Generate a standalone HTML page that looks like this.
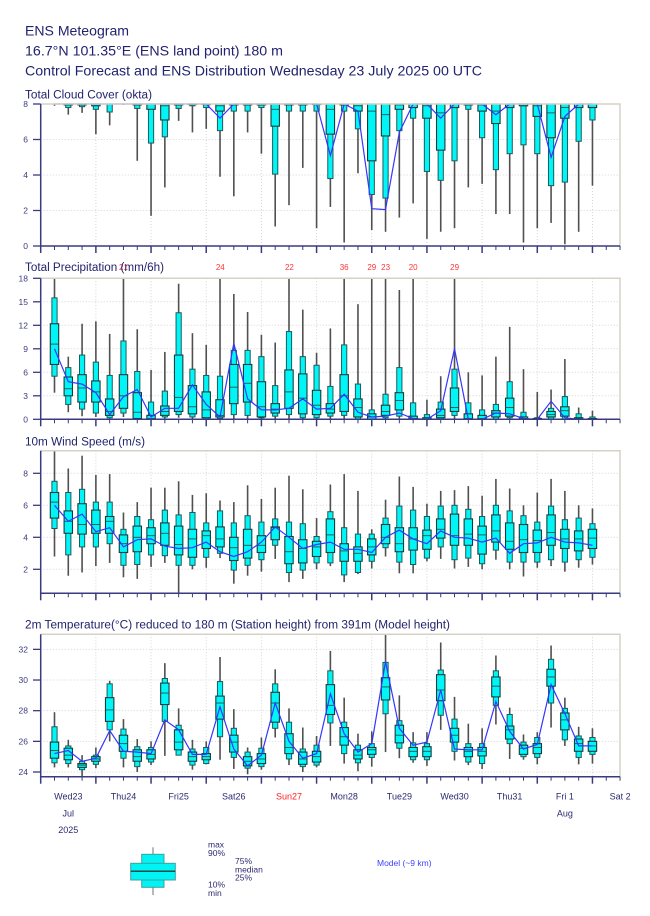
<!DOCTYPE html>
<html><head><meta charset="utf-8"><style>html,body{margin:0;padding:0;background:#fff;overflow:hidden}svg{display:block}</style></head>
<body>
<svg id="c" width="650" height="916" viewBox="0 0 650 916" xmlns="http://www.w3.org/2000/svg" font-family="'Liberation Sans', Arial, sans-serif">
<rect x="0" y="0" width="650" height="916" fill="#fff"/>
<g id="g"></g>
<g fill="#22226e">
<text x="25" y="35.5" font-size="14" textLength="104" lengthAdjust="spacingAndGlyphs">ENS Meteogram</text>
<text x="25" y="55.5" font-size="14" textLength="258" lengthAdjust="spacingAndGlyphs">16.7°N 101.35°E (ENS land point) 180 m</text>
<text x="25" y="75.5" font-size="14" textLength="457" lengthAdjust="spacingAndGlyphs">Control Forecast and ENS Distribution Wednesday 23 July 2025 00 UTC</text>
</g>
<g fill="#ff3333" font-size="8" text-anchor="middle">
<text x="123.5" y="270">21</text>
<text x="220.3" y="270">24</text>
<text x="289.4" y="270">22</text>
<text x="344.2" y="270">36</text>
<text x="371.8" y="270">29</text>
<text x="385.6" y="270">23</text>
<text x="413.2" y="270">20</text>
<text x="454.6" y="270">29</text>
</g>
<g fill="#22226e" font-size="11.5">
<text x="25" y="98.5" textLength="127" lengthAdjust="spacingAndGlyphs">Total Cloud Cover (okta)</text>
<text x="25" y="271" textLength="139" lengthAdjust="spacingAndGlyphs">Total Precipitation (mm/6h)</text>
<text x="25" y="445.5" textLength="120" lengthAdjust="spacingAndGlyphs">10m Wind Speed (m/s)</text>
<text x="25" y="628.5" textLength="425" lengthAdjust="spacingAndGlyphs">2m Temperature(°C) reduced to 180 m (Station height) from 391m (Model height)</text>
</g>
<g fill="#3c3c7c" font-size="8.5" text-anchor="end">
<text x="28" y="249">0</text><text x="28" y="213.5">2</text><text x="28" y="178">4</text><text x="28" y="142.5">6</text><text x="28" y="107">8</text>
<text x="28" y="422.3">0</text><text x="28" y="398.8">3</text><text x="28" y="375.3">6</text><text x="28" y="351.8">9</text><text x="28" y="328.3">12</text><text x="28" y="304.8">15</text><text x="28" y="281.3">18</text>
<text x="28" y="572.3">2</text><text x="28" y="540.3">4</text><text x="28" y="508.3">6</text><text x="28" y="476.3">8</text>
<text x="28" y="775">24</text><text x="28" y="744.3">26</text><text x="28" y="713.7">28</text><text x="28" y="683">30</text><text x="28" y="652.4">32</text>
</g>
<g fill="#2a2a70" font-size="9" text-anchor="middle">
<text x="68.3" y="799.5">Wed23</text>
<text x="123.5" y="799.5">Thu24</text>
<text x="178.6" y="799.5">Fri25</text>
<text x="233.8" y="799.5">Sat26</text>
<text x="289" y="799.5" fill="#ff2020">Sun27</text>
<text x="344.2" y="799.5">Mon28</text>
<text x="399.4" y="799.5">Tue29</text>
<text x="454.6" y="799.5">Wed30</text>
<text x="509.7" y="799.5">Thu31</text>
<text x="564.9" y="799.5">Fri 1</text>
<text x="620.1" y="799.5">Sat 2</text>
<text x="68.3" y="816.5">Jul</text>
<text x="564.9" y="816.5">Aug</text>
<text x="68.3" y="833">2025</text>
</g>
<g>
<line x1="153" y1="847.3" x2="153" y2="895" stroke="#888" stroke-width="1.2"/>
<rect x="141.7" y="854.3" width="22.3" height="33" fill="#00f4f4" stroke="#40a0a0" stroke-width="1"/>
<rect x="130.7" y="863.3" width="44.6" height="16.7" fill="#00f4f4" stroke="#40a0a0" stroke-width="1"/>
<line x1="130.7" y1="871.3" x2="175.3" y2="871.3" stroke="#1a4a4a" stroke-width="1.5"/>
</g>
<g fill="#2a2a70" font-size="8.5">
<text x="208" y="847.5">max</text>
<text x="208" y="856">90%</text>
<text x="235" y="864">75%</text>
<text x="235" y="872.5">median</text>
<text x="235" y="880.5">25%</text>
<text x="208" y="887.5">10%</text>
<text x="208" y="896">min</text>
<text x="377" y="866" fill="#4040ff">Model (~9 km)</text>
</g>
</svg>
<script>
const NS="http://www.w3.org/2000/svg";
const G=document.getElementById('g');
function el(t,a){const e=document.createElementNS(NS,t);for(const k in a)e.setAttribute(k,a[k]);G.appendChild(e);return e;}
const X=h=>40.7+h*2.299;
const XL=40.7, XR=620;
const AX='#3a3a80';
function grid(top,bot,ticks,yf){
  for(let k=1;k<=10;k++){const x=X(24*k);el('line',{x1:x,x2:x,y1:top,y2:bot,stroke:'#d4d4d4','stroke-dasharray':'1,2','stroke-width':1});}
  ticks.forEach(v=>{const y=yf(v);if(y>top+1&&y<bot-1)el('line',{x1:XL,x2:XR,y1:y,y2:y,stroke:'#d4d4d4','stroke-dasharray':'1,2','stroke-width':1});});
}
function axes(top,bot,ticks,yf){
  el('polyline',{points:`${XL},${top} ${XR},${top} ${XR},${bot}`,fill:'none',stroke:'#d6d2c6','stroke-width':1.5});
  ticks.forEach(v=>{const y=yf(v);el('line',{x1:33,x2:XL,y1:y,y2:y,stroke:AX,'stroke-width':1.3});});
  el('line',{x1:XL,x2:XL,y1:top,y2:bot+1,stroke:AX,'stroke-width':1.5});
  el('line',{x1:XL,x2:XR,y1:bot,y2:bot,stroke:AX,'stroke-width':1.5});
  for(let h=0;h<=252;h+=6){const x=X(h);const maj=h%24==0;el('line',{x1:x,x2:x,y1:bot,y2:bot+(maj?7:4),stroke:AX,'stroke-width':maj?1.5:1});}
}
function panel(data,model,yf,top,bot,ticks){
  grid(top,bot,ticks,yf);
  const Y=v=>Math.min(bot,Math.max(top,yf(v)));
  data.forEach((d,i)=>{
    const x=X(6*(i+1));
    el('line',{x1:x,x2:x,y1:Y(d[6]),y2:Y(d[0]),stroke:'#505050','stroke-width':1.6});
    el('rect',{x:x-2.6,y:Y(d[5]),width:5.2,height:Math.max(0,Y(d[1])-Y(d[5])),fill:'#00f6f6',stroke:'#1f5a5a','stroke-width':1});
    el('rect',{x:x-4.2,y:Y(d[4]),width:8.4,height:Math.max(0,Y(d[2])-Y(d[4])),fill:'#00f6f6',stroke:'#163c3c','stroke-width':1.1});
    el('line',{x1:x-4.2,x2:x+4.2,y1:Y(d[3]),y2:Y(d[3]),stroke:'#1f5050','stroke-width':0.9});
  });
  el('polyline',{points:model.map((m,i)=>X(6*(i+1)).toFixed(1)+','+Y(m).toFixed(1)).join(' '),fill:'none',stroke:'#3535ff','stroke-width':1.2});
  axes(top,bot,ticks,yf);
}
const cloud=[
[7.9,8,8,8,8,8,8],[7.4,7.8,7.95,8,8,8,8],[7.5,7.85,7.95,8,8,8,8],[6.3,7.7,7.9,8,8,8,8],[6.8,7.55,8,8,8,8,8],
[7.95,8,8,8,8,8,8],[4.8,7.75,7.95,8,8,8,8],[1.7,5.8,7.7,8,8,8,8],[3.3,6.15,7.1,7.9,8,8,8],[7.05,7.75,7.95,8,8,8,8],
[6.4,7.9,7.97,8,8,8,8],[6.6,7.8,7.97,8,8,8,8],[3.9,6.5,7.6,7.9,8,8,8],[2.8,7.6,7.95,8,8,8,8],[6.4,7.6,7.95,8,8,8,8],
[5.2,7.8,7.95,8,8,8,8],[1.1,4.05,6.75,7.7,8,8,8],[2.3,7.6,7.95,8,8,8,8],[4.4,7.6,7.95,8,8,8,8],[1.0,7.6,7.97,8,8,8,8],
[2.2,3.8,6.3,7.7,8,8,8],[0.2,7.6,7.95,8,8,8,8],[4.1,6.6,7.6,7.9,8,8,8],[0.9,2.9,4.8,7.6,8,8,8],[0.8,2.7,6.2,7.4,8,8,8],
[1.6,6.5,7.7,7.95,8,8,8],[2.4,7.2,7.8,8,8,8,8],[0.4,4.2,7.2,7.9,8,8,8],[0.8,3.7,5.4,7.5,8,8,8],[1.0,4.8,7.8,8,8,8,8],
[3.3,7.7,7.95,8,8,8,8],[3.5,6.1,7.6,7.95,8,8,8],[1.8,4.3,6.9,7.6,8,8,8],[1.8,5.2,7.8,8,8,8,8],[0.2,5.7,7.9,8,8,8,8],
[1.0,5.2,7.3,7.9,8,8,8],[1.3,3.4,6.1,7.5,8,8,8],[0.1,3.6,7.2,7.8,8,8,8],[0.8,5.9,7.8,8,8,8,8],[3.4,7.1,7.8,8,8,8,8]];
const cloudM=[8,8,8,8,8,8,8,8,8,8,8,8,7.2,8,8,8,8,8,8,8,5.1,8,7.6,2.1,2.05,6.4,8,8,7.2,8,8,8,7.4,8,8,8,5.0,7.3,8,8];
panel(cloud,cloudM,v=>246-v*17.75,104,246,[0,2,4,6,8]);
const pr=[
[3.4,5.5,7,9.6,12.2,15.5,19],[0.9,1.9,3,3.9,5.4,6.6,8],[0.4,1.3,2.2,4,5.7,8.2,12.2],[0.3,0.8,2.2,3.5,4.9,7.3,12.5],[0,0.2,0.5,1.0,2.6,5.6,10.9],
[0.3,0.8,1.4,3,5.7,10,19],[0,0,0.1,0.9,3.4,6.1,11.5],[0,0,0,0.1,0.5,2.2,6.3],[0,0.3,0.5,1.0,1.7,3.6,8.6],[0.2,0.6,1.0,2.8,8.2,13.6,17.3],
[0,0.3,0.7,1.6,4.3,6.4,11],[0,0,0.2,1.2,3.5,5.6,9.5],[0,0.1,0.3,0.5,2.5,5.5,19],[0,0.6,2,4.1,7,8.8,16],[0,0.5,2.2,4.6,7.0,8.8,13.7],
[0,0.2,0.3,1.6,4.8,8,10.8],[0,0.4,0.8,1.3,2.0,4.3,9.8],[0,0.6,1.4,3.5,6.3,11.2,19],[0,0.2,0.7,2.7,5.8,8,14],[0,0.2,0.6,1.8,3.7,6.9,8.5],
[0,0.4,0.8,1.3,2.0,4.2,11.6],[0,0.5,1.0,3,5.7,9.5,19],[0,0,0.3,1.5,2.6,4.5,14.7],[0,0,0,0.3,0.7,1.2,19],[0,0.2,0.5,1.0,1.8,3.2,19],
[0,0.4,1.2,2.4,3.4,6.6,16.5],[0,0,0,0.1,0.4,2.1,19],[0,0,0,0,0.2,0.6,2.5],[0,0,0.2,0.5,1.3,2.2,5.5],[0,0.5,1.0,1.5,4.0,6.4,19],
[0,0,0,0.1,0.7,2.1,6],[0,0,0,0.1,0.5,1.2,5.6],[0,0,0.3,0.8,1.1,1.9,8],[0,0.2,0.4,1.5,2.7,4.8,11.8],[0,0,0,0.1,0.3,0.9,6.4],
[0,0,0,0,0.1,0.2,3.5],[0,0,0.3,0.6,1.0,1.4,3.8],[0,0,0.4,1.1,1.6,2.9,7.7],[0,0,0,0.1,0.2,0.7,1.5],[0,0,0,0,0.1,0.3,1.1]];
const prM=[9,4.8,4.5,3.4,0.6,2.9,3.8,0.3,1.4,1.4,4.4,1.9,0.3,9.7,2.6,1.2,1.2,1.4,2.6,1.3,1.4,3.2,0.9,0.3,0.4,0.8,0.1,0,1.1,9.0,0,0,0.8,0.7,0.1,0,2.3,0.2,0,0];
panel(pr,prM,v=>419.3-v*7.833,278.3,419.3,[0,3,6,9,12,15,18]);
const wd=[
[2.8,4.55,5.2,6.2,6.8,7.5,9.6],[1.6,2.9,4.25,5.0,5.65,6.8,8.3],[1.8,3.4,4.2,4.8,6.1,7.0,9.1],[2.2,3.4,4.25,4.8,5.7,6.2,7.9],[2.4,3.6,4.25,5.0,5.3,6.2,7.95],
[1.5,2.25,3.05,3.6,4.15,4.5,5.55],[1.4,2.3,3.1,4.0,4.7,5.3,6.2],[2.15,2.9,3.6,4.1,4.6,5.1,7.1],[2.4,2.85,3.5,4.25,4.9,5.7,7.1],[0.5,2.25,2.9,3.55,4.7,5.4,7.5],
[2.0,2.25,2.75,3.9,4.5,5.55,6.65],[2.1,2.75,3.3,4.1,4.4,4.9,6.75],[2.7,3.0,3.4,3.9,4.65,5.65,6.3],[1.1,1.95,2.55,3.35,4.0,4.9,6.2],[1.6,2.25,2.7,3.5,4.5,5.35,7.25],
[1.85,2.6,3.05,3.5,4.1,4.95,6.4],[2.65,3.5,3.85,4.6,4.65,5.15,7.1],[1.2,1.8,2.35,3.1,4.05,4.95,7.85],[1.4,1.95,2.4,3.3,3.85,4.85,7.0],[2.0,2.4,2.8,3.4,3.75,4.05,5.2],
[2.2,2.4,3.05,4.15,5.15,5.6,7.3],[1.2,1.65,2.5,3.15,3.6,4.6,7.95],[1.7,1.8,2.5,3.0,3.4,4.2,6.9],[2.05,2.5,2.9,3.4,3.9,4.2,4.5],[2.8,3.35,3.6,4.0,4.8,5.2,6.35],
[1.75,2.45,3.1,3.6,4.6,5.95,7.8],[1.75,2.3,3.2,3.9,4.6,5.7,7.15],[2.5,2.7,3.25,4.1,4.45,5.3,6.1],[2.65,3.4,3.95,4.5,5.15,5.95,6.9],[2.05,2.6,3.5,4.1,5.45,6.0,6.95],
[2.15,2.7,3.5,4.2,5.15,5.75,7.2],[2.0,2.35,2.95,4.15,4.7,5.3,6.6],[2.6,3.2,3.7,4.4,5.4,6.0,7.65],[2.0,2.45,3.25,3.75,4.9,5.65,7.05],[1.55,2.45,3.05,3.85,4.8,5.35,6.0],
[2.1,2.45,3.05,3.8,4.45,4.95,6.8],[2.2,2.6,3.5,4.3,5.4,5.95,7.65],[1.85,2.45,3.3,3.9,4.5,5.1,6.9],[2.1,2.6,3.15,3.9,4.4,5.2,6.0],[2.3,2.75,3.3,3.95,4.5,4.85,5.8]];
const wdM=[6.0,5.0,5.45,4.35,4.6,3.4,3.85,3.9,3.45,3.3,3.35,3.7,3.1,2.8,3.1,3.7,4.65,4.0,3.3,3.55,3.7,3.25,3.25,3.05,4.0,4.45,3.9,3.6,4.4,4.0,3.95,3.7,3.95,3.0,3.6,3.65,4.0,3.7,3.65,3.5];
panel(wd,wdM,v=>601.3-16*v,450.7,593.3,[2,4,6,8]);
const tp=[
[24.3,24.6,24.9,25.4,25.95,26.95,27.9],[24.3,24.55,24.8,25.1,25.55,25.7,26.1],[23.7,24.15,24.3,24.45,24.55,24.7,25.1],[24.25,24.5,24.7,24.85,25.0,25.1,25.6],[26.0,26.75,27.3,28.05,28.85,29.75,29.95],
[24.3,24.9,25.35,25.85,26.4,26.8,27.45],[24.0,24.35,24.7,25.0,25.45,25.65,26.15],[24.45,24.65,24.85,25.15,25.45,25.6,26.0],[25.05,27.3,28.4,29.15,29.8,30.1,31.1],[25.1,25.1,25.45,25.95,26.75,27.05,28.15],
[24.15,24.45,24.7,25.0,25.3,25.5,26.1],[24.5,24.55,24.8,25.0,25.2,25.6,26.0],[24.8,26.3,27.45,28.5,28.95,29.9,31.5],[24.2,24.95,25.3,25.95,26.4,26.85,28.1],[23.85,24.25,24.4,24.7,25.0,25.3,25.6],
[24.15,24.35,24.55,24.85,25.2,25.55,26.25],[26.25,26.85,27.25,28.5,29.2,29.75,30.7],[24.45,24.85,25.2,25.6,26.5,27.25,28.15],[24.0,24.35,24.5,24.85,25.3,25.5,26.9],[24.3,24.45,24.65,25.0,25.35,25.75,26.35],
[25.7,27.2,27.75,28.35,29.7,30.6,31.9],[24.55,25.2,25.75,26.3,26.9,27.25,28.85],[24.05,24.6,24.85,25.1,25.45,25.75,26.5],[24.35,24.95,25.15,25.45,25.6,25.85,26.65],[25.3,27.8,28.7,29.55,30.15,31.15,33.2],
[24.9,25.55,25.9,26.4,27.05,27.35,29.0],[24.6,24.8,25.0,25.35,25.6,25.9,26.6],[24.4,24.8,25.0,25.35,25.65,25.85,26.6],[26.75,27.7,28.65,29.35,30.35,30.65,32.45],[24.75,25.35,25.95,26.4,26.85,27.45,28.9],
[24.45,24.65,25.0,25.35,25.6,25.85,27.15],[24.2,24.55,25.05,25.35,25.6,25.85,26.85],[27.1,28.35,28.9,29.6,30.2,30.6,31.6],[24.85,25.85,26.15,26.75,27.0,27.75,28.2],[24.8,25.0,25.15,25.55,25.75,25.95,26.45],
[24.5,24.95,25.2,25.6,25.85,26.25,26.6],[26.9,28.5,29.6,30.2,30.7,31.35,32.25],[25.7,26.1,26.75,27.4,27.85,28.15,28.85],[24.5,24.95,25.35,25.85,26.15,26.35,26.95],[24.55,25.15,25.35,25.7,26.0,26.25,26.85]];
const tpM=[25.2,25.4,24.7,24.9,26.7,25.35,25.3,25.2,27.4,26.75,25.15,25.15,28.25,25.5,24.4,25.1,28.5,26.0,24.9,25.2,29.1,26.5,25.3,25.85,31.2,26.85,25.75,25.95,29.35,25.5,25.45,25.45,28.6,26.65,25.5,25.8,29.7,27.8,25.7,25.7];
panel(tp,tpM,v=>772-(v-24)*15.33,634.3,776.7,[24,26,28,30,32]);
</script>
</body></html>
